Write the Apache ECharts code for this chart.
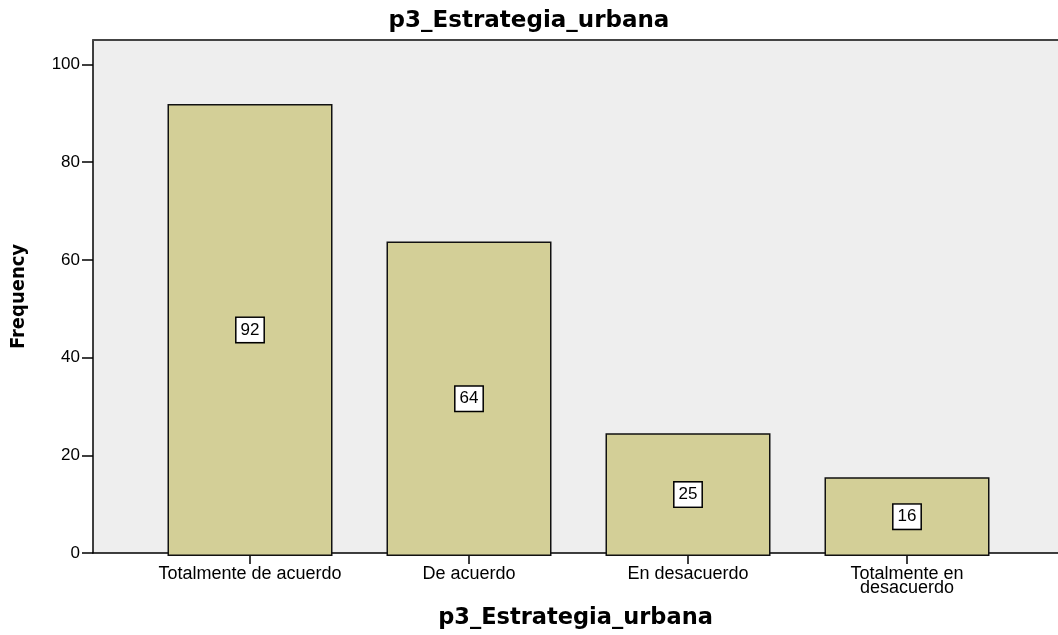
<!DOCTYPE html>
<html>
<head>
<meta charset="utf-8">
<script src="https://cdn.jsdelivr.net/npm/echarts@6/dist/echarts.min.js"></script>
<style>
  html, body { margin: 0; padding: 0; background: #fff; }
  #main { width: 1058px; height: 635px; }
</style>
</head>
<body>
<div id="main"></div>
<script>
// datos
var categories = ['Totalmente de acuerdo', 'De acuerdo', 'En desacuerdo', 'Totalmente en\ndesacuerdo'];
var frequency = [92, 64, 25, 16];
var yTicks = [0, 20, 40, 60, 80, 100];

var chart = echarts.init(document.getElementById('main'), null, { renderer: 'canvas' });

var option = {
  animation: false,
  backgroundColor: '#ffffff',
  title: {
    text: 'p3_Estrategia_urbana',
    left: 'center',
    top: 5,
    textStyle: {
      fontFamily: 'DejaVu Sans',
      fontWeight: 'bold',
      fontSize: 23,
      color: '#000'
    }
  },
  grid: [
    // area gris del fondo (recortada a la derecha como en la imagen)
    {
      left: 93, top: 40, width: 971, bottom: 79,
      show: true,
      backgroundColor: '#eeeeee',
      borderWidth: 0
    },
    // grid de las barras
    {
      left: 140.5, top: 40, width: 876, bottom: 79
    }
  ],
  xAxis: [
    {
      gridIndex: 0,
      type: 'value',
      min: 0,
      max: 1,
      splitLine: { show: false },
      axisTick: { show: false },
      axisLabel: { show: false },
      axisLine: { show: true, lineStyle: { color: '#000', width: 1.5 } },
      name: 'p3_Estrategia_urbana',
      nameLocation: 'middle',
      nameGap: 54,
      nameTextStyle: {
        fontFamily: 'DejaVu Sans',
        fontWeight: 'bold',
        fontSize: 22.5,
        color: '#000'
      }
    },
    {
      // linea superior del marco
      gridIndex: 0,
      type: 'value',
      position: 'top',
      min: 0,
      max: 1,
      splitLine: { show: false },
      axisTick: { show: false },
      axisLabel: { show: false },
      axisLine: { show: true, lineStyle: { color: '#444', width: 2 } }
    },
    {
      gridIndex: 1,
      type: 'category',
      data: categories,
      axisLine: { show: false },
      axisTick: { show: true, alignWithLabel: true, length: 8, lineStyle: { color: '#000', width: 1.5 } },
      axisLabel: {
        interval: 0,
        margin: 11,
        fontFamily: 'Liberation Sans, Arial, sans-serif',
        fontSize: 18,
        lineHeight: 14,
        color: '#000'
      }
    }
  ],
  yAxis: [
    {
      gridIndex: 0,
      type: 'value',
      min: 0,
      max: 105,
      splitLine: { show: false },
      axisLine: { show: true, lineStyle: { color: '#000', width: 1.5 } },
      axisTick: { show: true, length: 11, customValues: yTicks, lineStyle: { color: '#000', width: 1.5 } },
      axisLabel: {
        margin: 13,
        customValues: yTicks,
        fontFamily: 'Liberation Sans, Arial, sans-serif',
        fontSize: 17,
        color: '#000'
      },
      name: 'Frequency',
      nameLocation: 'middle',
      nameRotate: 90,
      nameGap: 64,
      nameTextStyle: {
        fontFamily: "'Liberation Sans Narrow', 'DejaVu Sans Condensed', sans-serif",
        fontWeight: 'bold',
        fontSize: 20,
        color: '#000'
      }
    },
    {
      gridIndex: 1,
      type: 'value',
      min: 0,
      max: 105,
      show: false,
      splitLine: { show: false }
    }
  ],
  series: [{
    type: 'bar',
    xAxisIndex: 2,
    yAxisIndex: 1,
    data: frequency,
    barWidth: 165,
    itemStyle: {
      color: '#d3cf97',
      borderColor: '#111',
      borderWidth: 1.5
    },
    label: {
      show: true,
      position: 'inside',
      fontFamily: 'Liberation Sans, Arial, sans-serif',
      fontSize: 17,
      color: '#000',
      backgroundColor: '#fff',
      borderColor: '#000',
      borderWidth: 1.5,
      padding: [4, 4, 3, 4]
    }
  }]
};

chart.setOption(option);
</script>
</body>
</html>
